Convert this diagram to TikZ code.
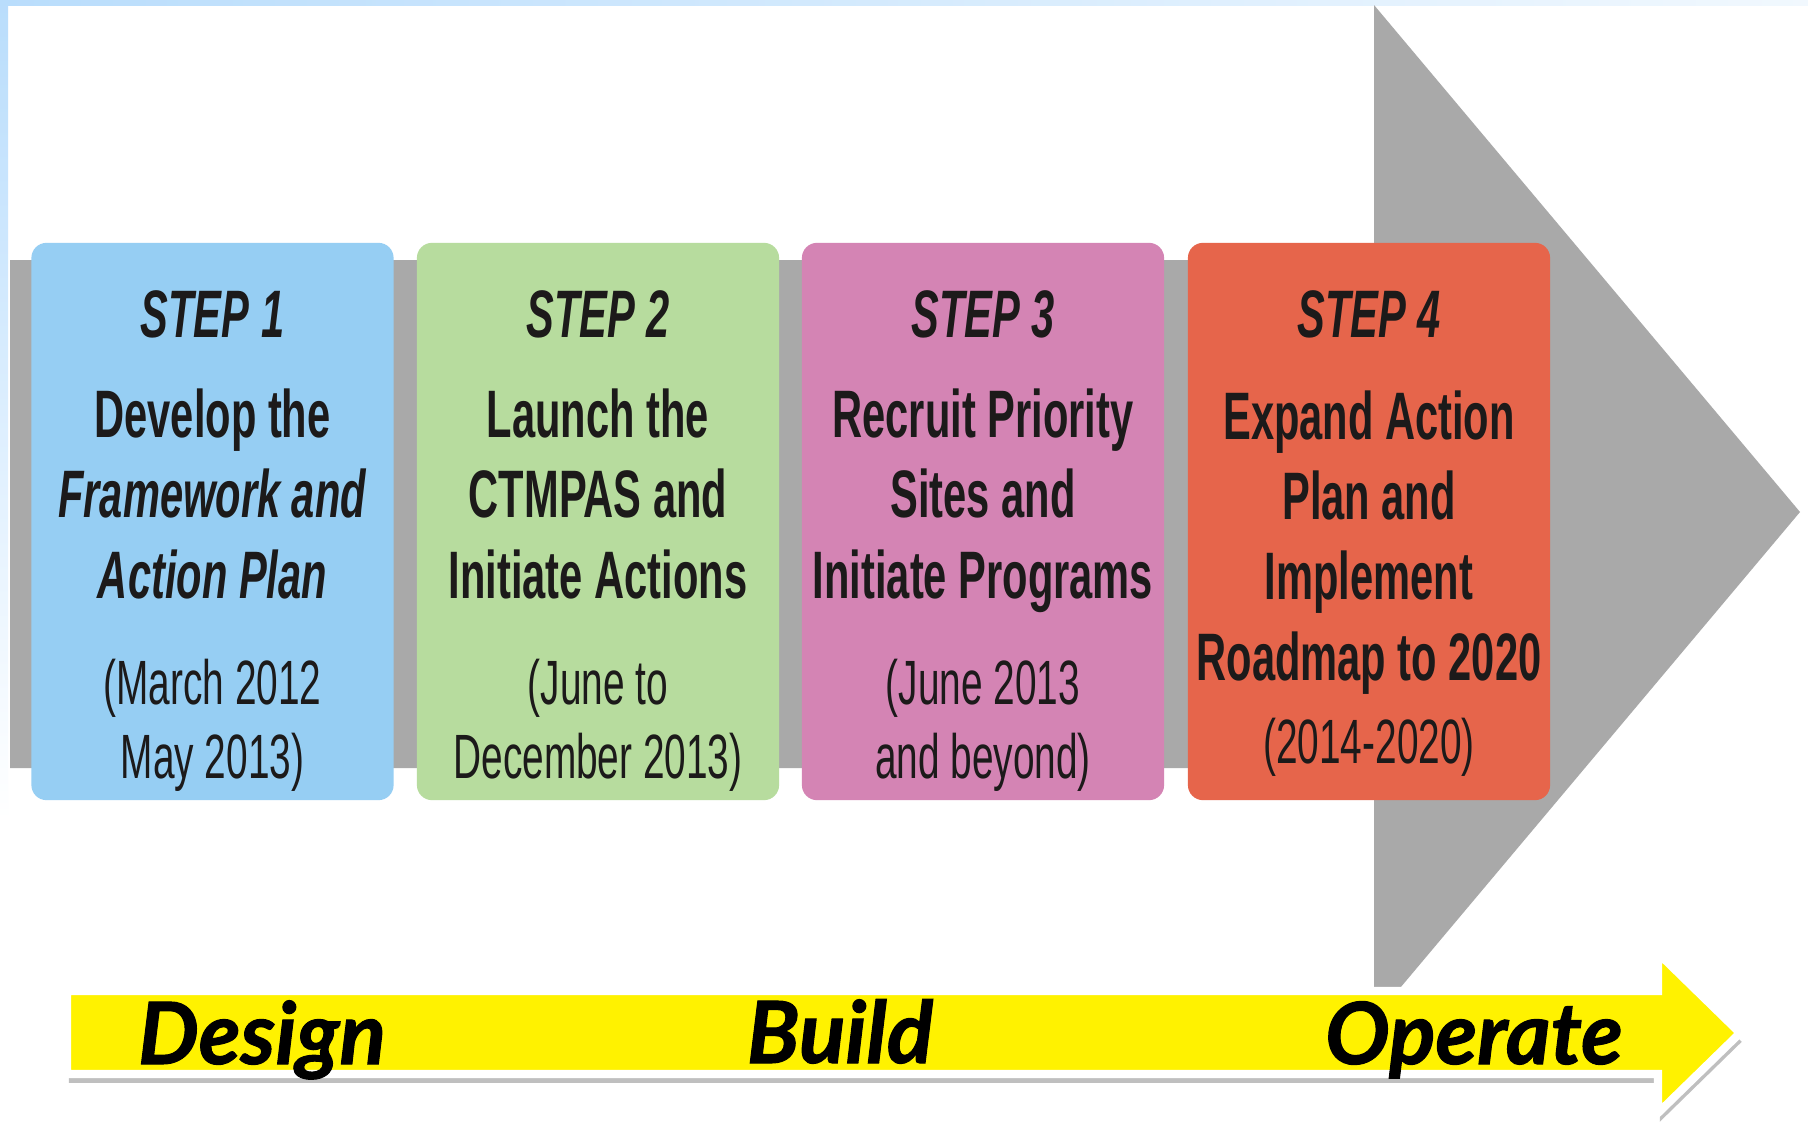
\documentclass[tikz,border=0pt]{standalone}
\usepackage{fontspec}
\setmainfont{Liberation Sans}
\newfontfamily\stepfont{Liberation Sans}[FakeStretch=0.62]
\newfontfamily\phasefont{Lato}[BoldItalicFeatures={FakeBold=1.2}]
\usetikzlibrary{shadows}
\definecolor{edgeblue}{HTML}{B9DDFC}
\definecolor{arrowgray}{HTML}{A9A9A9}
\definecolor{stepblue}{HTML}{96CEF3}
\definecolor{stepgreen}{HTML}{B7DC9E}
\definecolor{steppink}{HTML}{D484B4}
\definecolor{steporange}{HTML}{E6654B}
\definecolor{steptext}{HTML}{1C1A1A}
\tikzset{
  stepbox/.style={fill=#1, rounded corners=4.3pt, minimum width=3.62cm,
    minimum height=5.57cm, inner sep=0pt},
  steptitle/.style={anchor=base, text=steptext,
    font=\stepfont\bfseries\itshape\fontsize{19.1}{22.8}\selectfont},
  stepmain/.style={anchor=base, align=center, text=steptext,
    font=\stepfont\bfseries\fontsize{19.1}{22.8}\selectfont},
  stepdate/.style={anchor=base, align=center, text=steptext,
    font=\stepfont\fontsize{17.8}{20.8}\selectfont},
  phase/.style={anchor=base, text=black,
    font=\phasefont\bfseries\itshape\fontsize{24.4}{28}\selectfont}
}

\begin{document}
\begin{tikzpicture}[x=0.01cm, y=-0.01cm]
  \useasboundingbox[fill=white] (0,0) rectangle (1808,1124);
  % light frame at top and left
  \shade[left color=edgeblue, right color=edgeblue!20] (0,0) rectangle (1808,5);
  \shade[top color=edgeblue, bottom color=white] (0,0) rectangle (8,820);
  % big gray arrow behind the steps
  \fill[arrowgray] (10,260) -- (1374,260) -- (1374,5) -- (1800,512)
    -- (1374,1019) -- (1374,768) -- (10,768) -- cycle;
  % the four steps (base = last line)
  \foreach \n/\cx/\col/\mainy/\wheny/\main/\when in {
    1/212.5/stepblue/598/778/{Develop the\\\textit{Framework and}\\\textit{Action Plan}}/{(March 2012\\May 2013)},
    2/598/stepgreen/598/778/{Launch the\\CTMPAS and\\Initiate Actions}/{(June to\\December 2013)},
    3/983/steppink/598/778/{Recruit Priority\\Sites and\\Initiate Programs}/{(June 2013\\and beyond)},
    4/1369/steporange/680/763/{Expand Action\\Plan and\\Implement\\Roadmap to 2020}/{(2014-2020)}}
  {
    \node[stepbox=\col] (box\n) at (\cx,521.5) {};
    \node[steptitle] (title\n) at (\cx,337) {STEP \n};
    \node[stepmain] (main\n) at (\cx,\mainy) {\main};
    \node[stepdate] (date\n) at (\cx,\wheny) {\when};
  }
  % yellow phase arrow
  \draw[white, line width=2.3pt, fill=yellow,
    drop shadow={shadow xshift=0.5pt, shadow yshift=-2.5pt, opacity=0.25, fill=black}]
    (67,991) -- (1658,991) -- (1658,953) -- (1740,1033) -- (1658,1113)
    -- (1658,1074) -- (67,1074) -- cycle;
  \node[phase] (design) at (262,1064) {Design};
  \node[phase] (build) at (840,1063) {Build};
  \node[phase] (operate) at (1474,1064) {Operate};
\end{tikzpicture}
\end{document}
